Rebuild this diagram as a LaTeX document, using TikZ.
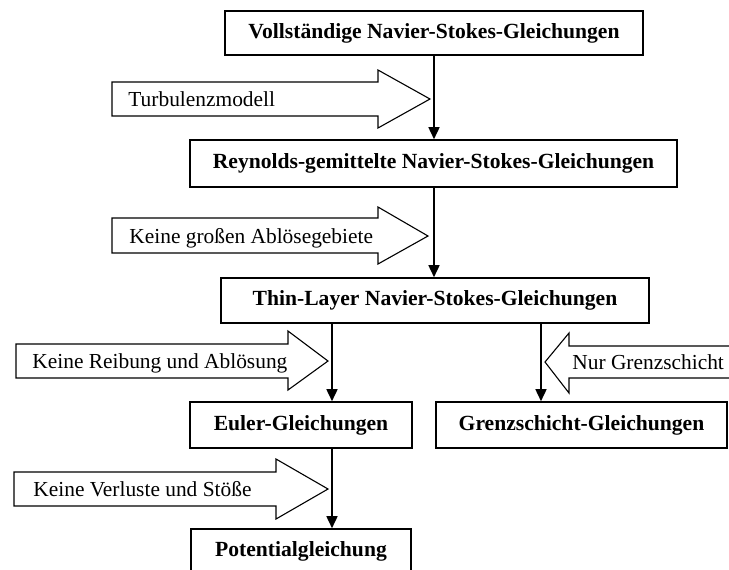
\documentclass[tikz,border=0pt]{standalone}
\usepackage{fontspec}
\setmainfont{Liberation Serif}
\usetikzlibrary{arrows.meta}

\begin{document}
\begin{tikzpicture}[x=0.5pt,y=-0.5pt,
  box/.style={rectangle,draw,line width=0.8pt,inner sep=0pt,
    font=\fontsize{10.8}{12}\selectfont\bfseries},
  arr/.style={-{Triangle[length=6pt,width=5.5pt]},line width=0.8pt},
  fat/.style={draw,line width=0.55pt,line join=miter},
  hint/.style={anchor=base west,inner sep=0pt,
    font=\fontsize{10.7}{12}\selectfont}]

  \useasboundingbox (0,0) rectangle (729,569);

  % Gleichungen
  \node[box,minimum width=209pt,minimum height=22pt] (voll) at (434,33) {Vollständige Navier-Stokes-Gleichungen};
  \node[box,minimum width=243.5pt,minimum height=23.5pt] (reyn) at (433.5,163.5) {Reynolds-gemittelte Navier-Stokes-Gleichungen};
  \node[box,minimum width=214pt,minimum height=22.5pt] (thin) at (435,300.5) {Thin-Layer Navier-Stokes-Gleichungen};
  \node[box,minimum width=111pt,minimum height=23pt] (euler) at (301,425) {Euler-Gleichungen};
  \node[box,minimum width=145.5pt,minimum height=23pt] (grenz) at (581.5,425) {Grenzschicht-Gleichungen};
  \node[box,minimum width=110pt,minimum height=22.5pt] (pot) at (301,551.5) {Potentialgleichung};

  % Annahmen (Blockpfeile)
  \draw[fat] (430,99) -- (378,70) -- (378,82) -- (112,82) -- (112,116) -- (378,116) -- (378,128) -- cycle;
  \draw[fat] (428,236) -- (378,207) -- (378,218) -- (112,218) -- (112,253) -- (378,253) -- (378,264) -- cycle;
  \draw[fat] (328,361) -- (288,331) -- (288,344) -- (16,344) -- (16,378) -- (288,378) -- (288,390) -- cycle;
  \draw[fat] (545,362) -- (569,333) -- (569,346) -- (740,346) -- (740,378) -- (569,378) -- (569,393) -- cycle;
  \draw[fat] (328,489) -- (276,459) -- (276,472) -- (14,472) -- (14,506) -- (276,506) -- (276,519) -- cycle;

  \node[hint] (turb) at (128,106) {Turbulenzmodell};
  \node[hint] (abl) at (129,243) {Keine großen Ablösegebiete};
  \node[hint] (reib) at (32,368) {Keine Reibung und Ablösung};
  \node[hint] (nur) at (572,369) {Nur Grenzschicht};
  \node[hint] (verl) at (33,496) {Keine Verluste und Stöße};

  \coordinate (lx) at (332,0);
  \coordinate (rx) at (541,0);

  \draw[arr] (voll.south) -- (voll.south |- reyn.north);
  \draw[arr] (reyn.south -| voll.south) -- (thin.north -| voll.south);
  \draw[arr] (thin.south -| lx) -- (euler.north -| lx);
  \draw[arr] (thin.south -| rx) -- (grenz.north -| rx);
  \draw[arr] (euler.south -| lx) -- (pot.north -| lx);
\end{tikzpicture}
\end{document}
